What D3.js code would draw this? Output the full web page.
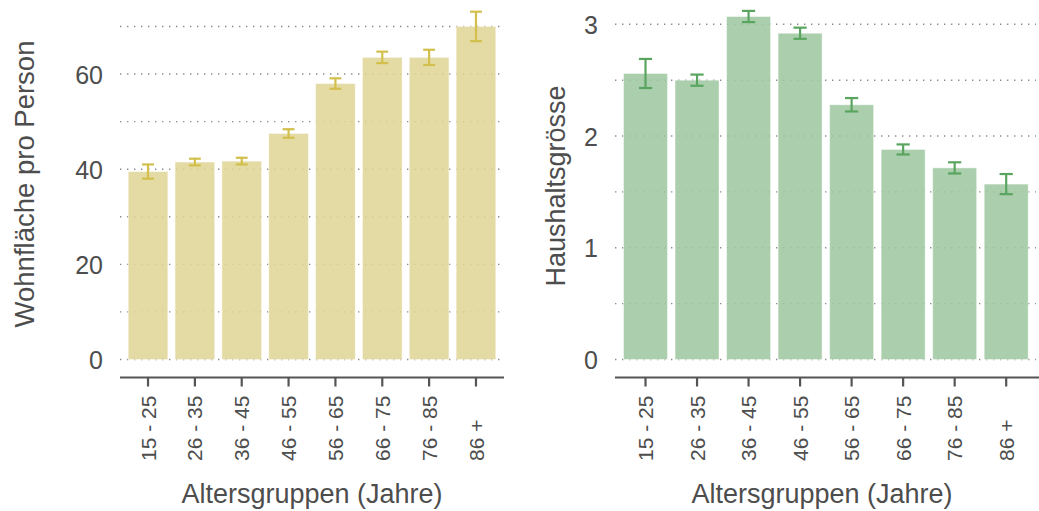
<!DOCTYPE html>
<html>
<head>
<meta charset="utf-8">
<script src="https://cdn.jsdelivr.net/npm/d3@7"></script>
<style>
  html, body { margin: 0; padding: 0; background: #fff; }
  svg { display: block; }
  text { font-family: "Liberation Sans", Arial, sans-serif; fill: #4d4d4d; }
</style>
</head>
<body>
<svg id="chart" width="1039" height="511"></svg>
<script>
// ---- data ----
const categories = ["15 - 25", "26 - 35", "36 - 45", "46 - 55", "56 - 65", "66 - 75", "76 - 85", "86 +"];
const wohnflaeche = [39.5, 41.5, 41.7, 47.5, 58.0, 63.5, 63.5, 70.0];
const wohnflaecheErr = [1.5, 0.7, 0.7, 0.9, 1.1, 1.2, 1.6, 3.1];
const haushalt = [2.56, 2.50, 3.07, 2.92, 2.28, 1.88, 1.715, 1.57];
const haushaltErr = [0.13, 0.05, 0.05, 0.05, 0.06, 0.045, 0.05, 0.09];
const wohnTicks = [0, 20, 40, 60];
const wohnGrid = [0, 10, 20, 30, 40, 50, 60, 70];
const haushaltTicks = [0, 1, 2, 3];
const haushaltGrid = [0, 0.5, 1, 1.5, 2, 2.5, 3];
const xTitle = "Altersgruppen (Jahre)";

const svg = d3.select("#chart");

function panel(cfg) {
  const g = svg.append("g");
  const x = d3.scaleBand().domain(categories).range(cfg.bandRange)
    .paddingInner(cfg.pad).paddingOuter(cfg.pad / 2);
  const y = d3.scaleLinear().domain(cfg.yDomain).range(cfg.yRange);

  // grid
  g.append("g").selectAll("line").data(cfg.grid).join("line")
    .attr("x1", cfg.axisX[0]).attr("x2", cfg.gridEnd)
    .attr("y1", d => y(d)).attr("y2", d => y(d))
    .attr("stroke", "#8c8c8c").attr("stroke-width", 1.4)
    .attr("stroke-dasharray", "1.4,5.6");

  // bars
  g.append("g").selectAll("rect").data(cfg.values).join("rect")
    .attr("x", (d, i) => x(categories[i]))
    .attr("width", x.bandwidth())
    .attr("y", d => y(d))
    .attr("height", d => y(0) - y(d))
    .attr("fill", cfg.fill).attr("fill-opacity", 0.86)
    .attr("stroke", "#ffffff").attr("stroke-opacity", 0.45).attr("stroke-width", 1);

  // error bars
  const eg = g.append("g").attr("stroke", cfg.errColor).attr("stroke-width", 2.2);
  const cap = x.bandwidth() * 0.3;
  cfg.values.forEach((v, i) => {
    const cx = x(categories[i]) + x.bandwidth() / 2;
    const lo = y(v - cfg.errs[i]), hi = y(v + cfg.errs[i]);
    eg.append("line").attr("x1", cx).attr("x2", cx).attr("y1", lo).attr("y2", hi);
    eg.append("line").attr("x1", cx - cap / 2).attr("x2", cx + cap / 2).attr("y1", lo).attr("y2", lo);
    eg.append("line").attr("x1", cx - cap / 2).attr("x2", cx + cap / 2).attr("y1", hi).attr("y2", hi);
  });

  // y axis (labels only)
  const yAxis = d3.axisLeft(y).tickValues(cfg.ticks).tickSize(0).tickPadding(0)
    .tickFormat(d3.format("d"));
  const ya = g.append("g").attr("transform", `translate(${cfg.yLabelX},0)`).call(yAxis);
  ya.select(".domain").remove();
  ya.selectAll("text").attr("font-size", 25).attr("fill", "#4d4d4d")
    .attr("font-family", "Liberation Sans, Arial, sans-serif")
    .attr("dy", "0.36em").attr("x", 0);

  // x axis
  const xAxis = d3.axisBottom(x).tickSize(9).tickSizeOuter(0).tickFormat("");
  const xa = g.append("g").attr("transform", `translate(0,${cfg.axisY})`).call(xAxis);
  xa.select(".domain").attr("d", `M${cfg.axisX[0]},0H${cfg.axisX[1]}`)
    .attr("stroke", "#555").attr("stroke-width", 2.2);
  xa.selectAll(".tick line").attr("stroke", "#555").attr("stroke-width", 2.2);

  // x tick labels (rotated)
  g.append("g").selectAll("text").data(categories).join("text")
    .attr("transform", d => `translate(${x(d) + x.bandwidth() / 2},461) rotate(-90)`)
    .attr("text-anchor", "start").attr("dy", "0.36em")
    .attr("font-size", 21).text(d => d);

  // titles
  g.append("text").attr("x", cfg.xTitleX).attr("y", 503)
    .attr("text-anchor", "middle").attr("font-size", 27).text(xTitle);
  g.append("text")
    .attr("transform", `translate(${cfg.yTitleX},${cfg.yTitleY}) rotate(-90)`)
    .attr("text-anchor", "middle").attr("dy", "0.36em")
    .attr("font-size", cfg.yTitleSize).text(cfg.yTitle);
}

panel({
  values: wohnflaeche, errs: wohnflaecheErr, ticks: wohnTicks, grid: wohnGrid,
  bandRange: [124.6, 499.4], pad: 0.154,
  yDomain: [0, 75], yRange: [359.5, 359.5 - 75 * 4.758],
  axisX: [120, 504], gridEnd: 500, axisY: 377.5, yLabelX: 103,
  fill: "#dfd495", errColor: "#d2bf4c",
  xTitleX: 312, yTitle: "Wohnfläche pro Person", yTitleX: 24, yTitleY: 184, yTitleSize: 27.5
});

panel({
  values: haushalt, errs: haushaltErr, ticks: haushaltTicks, grid: haushaltGrid,
  bandRange: [619.75, 1031.95], pad: 0.146,
  yDomain: [0, 3.2], yRange: [359.5, 359.5 - 3.2 * 111.73],
  axisX: [615, 1039], gridEnd: 1036, axisY: 377.5, yLabelX: 598,
  fill: "#9dc79f", errColor: "#59a55f",
  xTitleX: 822, yTitle: "Haushaltsgrösse", yTitleX: 555, yTitleY: 186, yTitleSize: 27
});
</script>
</body>
</html>
